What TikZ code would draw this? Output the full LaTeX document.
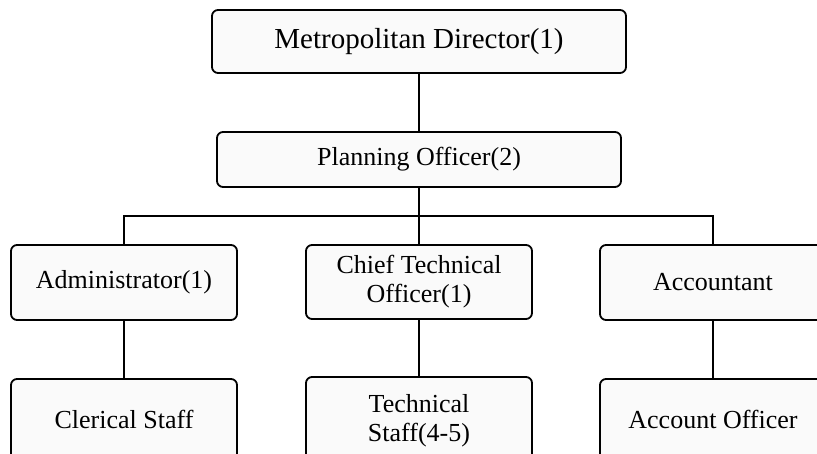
\documentclass[tikz,border=0pt]{standalone}
\usepackage{fontspec}
\setmainfont{Liberation Serif}
\begin{document}
\begin{tikzpicture}[x=1pt,y=-1pt,
  orgbox/.style={draw=black, line width=1.8pt, rounded corners=6pt, fill=black!2,
    inner sep=0pt, align=center, font=\fontsize{26}{29}\selectfont},
  link/.style={draw=black, line width=1.8pt}]
\useasboundingbox (0,0) rectangle (817,454);
\clip (0,0) rectangle (817,454);

% top levels
\node[orgbox, minimum width=414pt, minimum height=63pt, font=\fontsize{29}{32}\selectfont]
  (dir) at (419,41.5) {Metropolitan Director(1)};
\node[orgbox, minimum width=404pt, minimum height=55pt] (plan) at (419,159.5) {Planning Officer(2)};

% middle level
\node[orgbox, minimum width=226pt, minimum height=75pt] (admin) at (124,282.5) {Administrator(1)};
\node[orgbox, minimum width=226pt, minimum height=74pt] (chief) at (419,282) {Chief Technical\\Officer(1)};
\node[orgbox, minimum width=226pt, minimum height=75pt] (acct) at (713,282.5) {Accountant};

% bottom level: boxes run past the lower edge, text lifted to sit in the visible part
\node[orgbox, minimum width=226pt, minimum height=86pt] (clerk) at (124,422) {\raisebox{5pt}{Clerical Staff}};
\node[orgbox, minimum width=226pt, minimum height=88pt] (tech) at (419,421)
  {\raisebox{6pt}{\begin{tabular}{@{}c@{}}Technical\\Staff(4-5)\end{tabular}}};
\node[orgbox, minimum width=226pt, minimum height=86pt] (accoff) at (713,422) {\raisebox{5pt}{Account Officer}};

% connectors
\coordinate (bus) at (419,216);
\draw[link] (dir.south) -- (plan.north);
\draw[link] (plan.south) -- (bus);
\draw[link] (admin.north) |- (bus) -| (acct.north);
\draw[link] (bus) -- (chief.north);
\draw[link] (admin.south) -- (clerk.north);
\draw[link] (chief.south) -- (tech.north);
\draw[link] (acct.south) -- (accoff.north);
\end{tikzpicture}
\end{document}
